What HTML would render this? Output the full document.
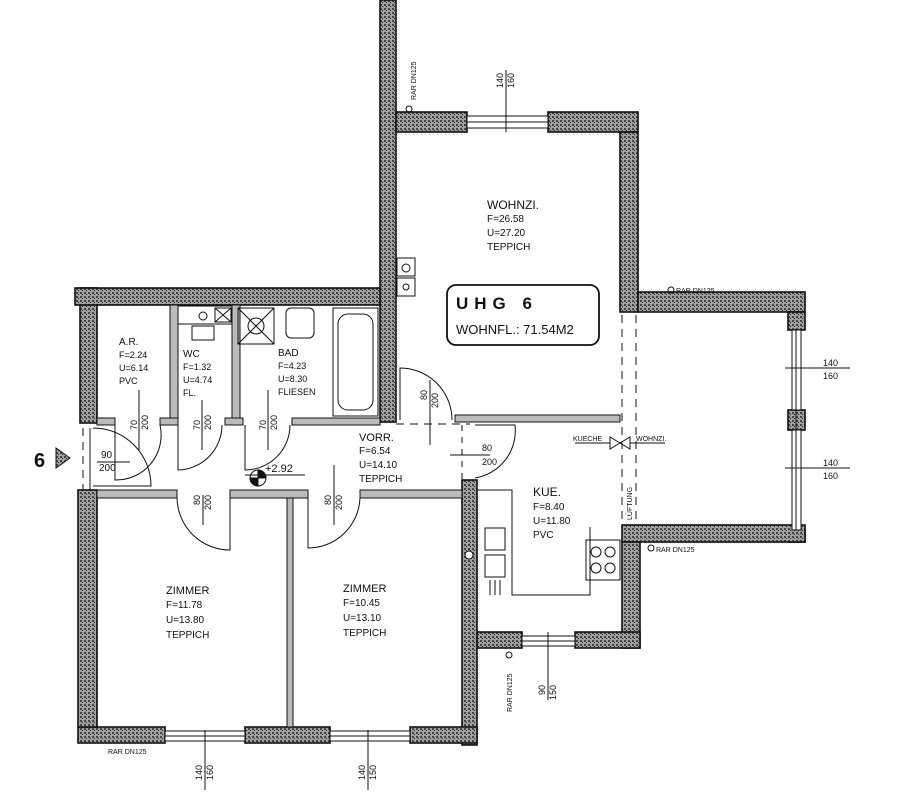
<!DOCTYPE html>
<html><head><meta charset="utf-8"><style>
html,body{margin:0;padding:0;background:#fff;}
svg{display:block;}
text{font-family:"Liberation Sans",sans-serif;fill:#111;}
</style></head><body>
<svg width="900" height="801" viewBox="0 0 900 801" xmlns="http://www.w3.org/2000/svg">
<defs>
<pattern id="h" width="4" height="4" patternUnits="userSpaceOnUse">
<rect width="4" height="4" fill="#a0a0a0"/>
<rect x="0" y="0" width="2" height="2" fill="#444"/>
<rect x="2" y="2" width="1" height="1" fill="#222"/>
</pattern>
</defs>
<g stroke="#111" stroke-width="1.6" fill="url(#h)">
<rect x="380" y="0" width="16" height="422"/>
<rect x="396" y="112" width="71" height="20"/>
<rect x="548" y="112" width="90" height="20"/>
<rect x="620" y="132" width="18" height="180"/>
<rect x="638" y="292" width="167" height="20"/>
<rect x="788" y="312" width="17" height="18"/>
<rect x="788" y="410" width="17" height="20"/>
<rect x="788" y="530" width="17" height="12"/>
<rect x="622" y="525" width="183" height="17"/>
<rect x="622" y="542" width="18" height="106"/>
<rect x="475" y="632" width="47" height="16"/>
<rect x="575" y="632" width="65" height="16"/>
<rect x="462" y="480" width="15" height="265"/>
<rect x="78" y="727" width="87" height="16"/>
<rect x="245" y="727" width="85" height="16"/>
<rect x="410" y="727" width="67" height="16"/>
<rect x="78" y="490" width="19" height="237"/>
<rect x="80" y="288" width="17" height="135"/>
<rect x="75" y="288" width="305" height="17"/>
</g>
<g fill="#fff" stroke="#111" stroke-width="1">
<rect x="467" y="116" width="81" height="12"/>
<rect x="792" y="330" width="9" height="80"/>
<rect x="792" y="430" width="9" height="100"/>
<rect x="522" y="636" width="53" height="10"/>
<rect x="165" y="731" width="80" height="10"/>
<rect x="330" y="731" width="80" height="10"/>
</g>
<g stroke="#111" stroke-width="1" fill="none">
<line x1="467" y1="122" x2="548" y2="122"/>
<line x1="796" y1="330" x2="796" y2="530"/>
<line x1="522" y1="641" x2="575" y2="641"/>
<line x1="165" y1="736" x2="245" y2="736"/>
<line x1="330" y1="736" x2="410" y2="736"/>
<rect x="170" y="305" width="8" height="120" fill="#bbb"/>
<rect x="232" y="305" width="8" height="120" fill="#bbb"/>
<rect x="97" y="418" width="18" height="7" fill="#bbb"/>
<rect x="160" y="418" width="18" height="7" fill="#bbb"/>
<rect x="225" y="418" width="18" height="7" fill="#bbb"/>
<rect x="292" y="418" width="88" height="7" fill="#bbb"/>
<rect x="455" y="415" width="165" height="7" fill="#bbb"/>
<rect x="97" y="490" width="80" height="8" fill="#bbb"/>
<rect x="230" y="490" width="78" height="8" fill="#bbb"/>
<rect x="360" y="490" width="102" height="8" fill="#bbb"/>
<rect x="287" y="498" width="6" height="229" fill="#bbb"/>
<rect x="333" y="308" width="45" height="108"/>
<rect x="338" y="314" width="35" height="96" rx="10"/>
<rect x="238" y="308" width="36" height="36"/>
<line x1="238" y1="308" x2="274" y2="344"/><line x1="274" y1="308" x2="238" y2="344"/>
<circle cx="256" cy="326" r="8"/>
<rect x="286" y="308" width="28" height="30" rx="5"/>
<rect x="178" y="306" width="54" height="18"/>
<rect x="215" y="308" width="16" height="14"/><line x1="215" y1="308" x2="231" y2="322"/><line x1="231" y1="308" x2="215" y2="322"/>
<circle cx="203" cy="316" r="4"/>
<rect x="192" y="326" width="22" height="14"/>
<rect x="397" y="258" width="18" height="18"/><rect x="397" y="278" width="18" height="18"/>
<circle cx="406" cy="268" r="4"/><circle cx="406" cy="287" r="3"/>
<rect x="447" y="285" width="152" height="60" rx="9" stroke-width="1.8"/>
<line x1="622" y1="315" x2="622" y2="525" stroke-dasharray="8,6"/>
<line x1="636" y1="315" x2="636" y2="525" stroke-dasharray="8,6"/>
<line x1="396" y1="424" x2="470" y2="424" stroke-dasharray="8,6"/>
<line x1="83" y1="428" x2="83" y2="490" stroke-dasharray="8,6"/>
<line x1="462" y1="425" x2="462" y2="480" stroke-dasharray="6,6"/>
<path d="M93 428 A58 58 0 0 1 151 486 L93 486"/>
<line x1="90" y1="428" x2="90" y2="490"/>
<path d="M115 425 L115 480 A45 45 0 0 0 160 425"/>
<path d="M178 425 L178 470 A45 45 0 0 0 222 425"/>
<path d="M245 425 L245 470 A45 45 0 0 0 290 425"/>
<path d="M400 420 L400 368 A52 52 0 0 1 452 420"/>
<path d="M475 425 L515 425 A48 48 0 0 1 475 478"/>
<path d="M177 498 A53 53 0 0 0 230 550 L230 498"/>
<path d="M308 498 L308 548 A52 52 0 0 0 360 498"/>
<line x1="139" y1="390" x2="139" y2="450"/>
<line x1="202" y1="400" x2="202" y2="450"/>
<line x1="268" y1="390" x2="268" y2="450"/>
<line x1="203" y1="495" x2="203" y2="525"/>
<line x1="334" y1="465" x2="334" y2="525"/>
<line x1="97" y1="462" x2="130" y2="462"/>
<line x1="430" y1="380" x2="430" y2="445"/>
<line x1="450" y1="455" x2="490" y2="455"/>
<line x1="506" y1="70" x2="506" y2="132"/>
<line x1="785" y1="368" x2="850" y2="368"/>
<line x1="785" y1="468" x2="850" y2="468"/>
<line x1="548" y1="632" x2="548" y2="700"/>
<line x1="205" y1="730" x2="205" y2="790"/>
<line x1="368" y1="730" x2="368" y2="790"/>
<line x1="245" y1="475" x2="305" y2="475"/>
<circle cx="258" cy="478" r="8"/>
<path d="M258 470 A8 8 0 0 1 266 478 L258 478Z M258 478 L258 486 A8 8 0 0 1 250 478Z" fill="#111"/>
<polyline points="477,490 512,490 512,595 590,595 590,527"/>
<rect x="485" y="528" width="20" height="22"/><rect x="485" y="555" width="20" height="22"/>
<line x1="490" y1="580" x2="490" y2="595"/><line x1="495" y1="580" x2="495" y2="595"/><line x1="500" y1="580" x2="500" y2="595"/>
<rect x="586" y="540" width="34" height="40"/>
<circle cx="596" cy="552" r="5"/><circle cx="610" cy="552" r="5"/><circle cx="596" cy="568" r="5"/><circle cx="610" cy="568" r="5"/>
<circle cx="469" cy="555" r="4" fill="#fff"/>
<path d="M610 437 L620 443 L610 449Z M630 437 L620 443 L630 449Z"/>
<line x1="575" y1="443" x2="610" y2="443"/><line x1="630" y1="443" x2="665" y2="443"/>
<circle cx="409" cy="109" r="3"/>
<circle cx="671" cy="290" r="3"/>
<circle cx="651" cy="548" r="3"/>
<circle cx="509" cy="655" r="3"/>
<path d="M56 448 L70 458 L56 468Z" fill="url(#h)"/>
</g>
<g font-size="11">
<text x="487" y="209" font-size="12">WOHNZI.</text>
<text x="487" y="222" font-size="10">F=26.58</text>
<text x="487" y="236" font-size="10">U=27.20</text>
<text x="487" y="250" font-size="10">TEPPICH</text>
<text x="456" y="309" font-size="17" font-weight="bold" letter-spacing="6">UHG 6</text>
<text x="456" y="334" font-size="13">WOHNFL.: 71.54M2</text>
<text x="119" y="345" font-size="10">A.R.</text>
<text x="119" y="358" font-size="9">F=2.24</text>
<text x="119" y="371" font-size="9">U=6.14</text>
<text x="119" y="384" font-size="9">PVC</text>
<text x="183" y="357" font-size="10">WC</text>
<text x="183" y="370" font-size="9">F=1.32</text>
<text x="183" y="383" font-size="9">U=4.74</text>
<text x="183" y="396" font-size="9">FL.</text>
<text x="278" y="356" font-size="10">BAD</text>
<text x="278" y="369" font-size="9">F=4.23</text>
<text x="278" y="382" font-size="9">U=8.30</text>
<text x="278" y="395" font-size="9">FLIESEN</text>
<text x="359" y="441" font-size="11">VORR.</text>
<text x="359" y="454" font-size="10">F=6.54</text>
<text x="359" y="468" font-size="10">U=14.10</text>
<text x="359" y="482" font-size="10">TEPPICH</text>
<text x="533" y="496" font-size="12">KUE.</text>
<text x="533" y="510" font-size="10">F=8.40</text>
<text x="533" y="524" font-size="10">U=11.80</text>
<text x="533" y="538" font-size="10">PVC</text>
<text x="166" y="594" font-size="11">ZIMMER</text>
<text x="166" y="608" font-size="10">F=11.78</text>
<text x="166" y="623" font-size="10">U=13.80</text>
<text x="166" y="638" font-size="10">TEPPICH</text>
<text x="343" y="592" font-size="11">ZIMMER</text>
<text x="343" y="606" font-size="10">F=10.45</text>
<text x="343" y="621" font-size="10">U=13.10</text>
<text x="343" y="636" font-size="10">TEPPICH</text>
<text x="265" y="472" font-size="11">+2.92</text>
<text x="101" y="458" font-size="10">90</text>
<text x="99" y="471" font-size="10">200</text>
<text x="482" y="451" font-size="9">80</text>
<text x="482" y="465" font-size="9">200</text>
<text x="823" y="366" font-size="9">140</text>
<text x="823" y="379" font-size="9">160</text>
<text x="823" y="466" font-size="9">140</text>
<text x="823" y="479" font-size="9">160</text>
<text x="573" y="441" font-size="7">KUECHE</text>
<text x="636" y="441" font-size="7">WOHNZI.</text>
<text x="676" y="293" font-size="7">RAR DN125</text>
<text x="656" y="552" font-size="7">RAR DN125</text>
<text x="108" y="754" font-size="7">RAR DN125</text>
<g font-size="9">
<text transform="translate(137,430) rotate(-90)">70</text>
<text transform="translate(148,430) rotate(-90)">200</text>
<text transform="translate(200,430) rotate(-90)">70</text>
<text transform="translate(211,430) rotate(-90)">200</text>
<text transform="translate(266,430) rotate(-90)">70</text>
<text transform="translate(277,430) rotate(-90)">200</text>
<text transform="translate(200,505) rotate(-90)">80</text>
<text transform="translate(211,510) rotate(-90)">200</text>
<text transform="translate(331,505) rotate(-90)">80</text>
<text transform="translate(342,510) rotate(-90)">200</text>
<text transform="translate(427,400) rotate(-90)">80</text>
<text transform="translate(438,408) rotate(-90)">200</text>
<text transform="translate(503,88) rotate(-90)">140</text>
<text transform="translate(514,88) rotate(-90)">160</text>
<text transform="translate(202,780) rotate(-90)">140</text>
<text transform="translate(213,780) rotate(-90)">160</text>
<text transform="translate(365,780) rotate(-90)">140</text>
<text transform="translate(376,780) rotate(-90)">150</text>
<text transform="translate(545,695) rotate(-90)">90</text>
<text transform="translate(556,700) rotate(-90)">150</text>
</g>
<g font-size="7">
<text transform="translate(416,100) rotate(-90)">RAR DN125</text>
<text transform="translate(512,712) rotate(-90)">RAR DN125</text>
<text transform="translate(632,520) rotate(-90)">LÜFTUNG</text>
</g>
<text x="34" y="467" font-size="20" font-weight="bold">6</text>
</g>
</svg>
</body></html>
